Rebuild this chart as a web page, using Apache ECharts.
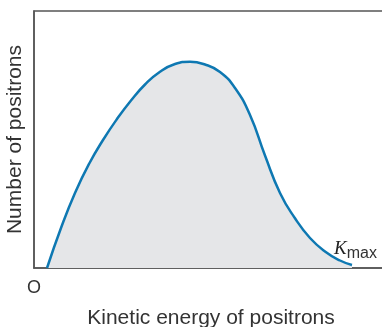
<!DOCTYPE html>
<html><head><meta charset="utf-8">
<script src="https://cdn.jsdelivr.net/npm/echarts@6/dist/echarts.min.js"></script>
<style>html,body{margin:0;padding:0;background:#fff}#c{width:382px;height:327px}</style>
</head><body><div id="c"></div>
<script>
// Kinetic energy (arbitrary units, 0..100) and number of positrons (arbitrary units, 0..100)
const energy = [3.74, 7.76, 11.78, 15.80, 19.83, 23.85, 27.87, 31.90, 36.21, 40.52, 44.83, 49.14, 53.45, 57.76, 62.07, 66.38, 70.69, 75.00, 79.31, 83.62, 87.93, 91.38];
const counts = [0, 15.56, 29.18, 40.47, 49.81, 57.98, 65.18, 71.40, 76.38, 79.38, 80.27, 79.18, 76.26, 70.04, 59.53, 43.77, 29.18, 19.34, 11.67, 6.42, 2.92, 1.17];
const xTickLabels = ['O'];
const xTitle = 'Kinetic energy of positrons';
const yTitle = 'Number of positrons';

const chart = echarts.init(document.getElementById('c'), null, {renderer: 'canvas'});
const font = 'Liberation Sans';
chart.setOption({
  animation: false,
  grid: {left: 34, top: 11, bottom: 59, right: -6, containLabel: false, outerBoundsMode: 'none',
         show: true, borderColor: '#555', borderWidth: 1.5, backgroundColor: 'transparent'},
  xAxis: {
    type: 'value', min: 0, max: 100 * 354 / 348, interval: 200,
    axisLine: {show: true, lineStyle: {color: '#555', width: 1.5}},
    axisTick: {show: false}, splitLine: {show: false},
    axisLabel: {formatter: v => v === 0 ? xTickLabels[0] : '', fontFamily: font, fontSize: 18, color: '#333', margin: 11, showMaxLabel: false},
    name: xTitle, nameLocation: 'middle', nameGap: 40,
    nameTextStyle: {fontFamily: font, fontSize: 21, color: '#333'}
  },
  yAxis: {
    type: 'value', min: 0, max: 100,
    axisLine: {show: true, lineStyle: {color: '#555', width: 1.5}},
    axisTick: {show: false}, splitLine: {show: false}, axisLabel: {show: false},
    name: yTitle, nameLocation: 'middle', nameGap: 8,
    nameTextStyle: {fontFamily: font, fontSize: 21, color: '#333'}
  },
  series: [{
    type: 'line', smooth: 0.5, symbol: 'none',
    data: energy.map((e, i) => [e, counts[i]]),
    lineStyle: {color: '#0e78b2', width: 2.5},
    areaStyle: {color: '#e5e6e8', opacity: 1}
  }]
});
const p = chart.convertToPixel({gridIndex: 0}, [energy[energy.length - 1], counts[counts.length - 1]]);
chart.setOption({
  graphic: [{
    type: 'text', left: p[0] - 18, top: p[1] - 25,
    style: {
      text: '{k|K}{m|max}',
      rich: {
        k: {fontFamily: 'Liberation Serif', fontStyle: 'italic', fontSize: 19, fill: '#222', verticalAlign: 'bottom'},
        m: {fontFamily: font, fontSize: 16, fill: '#333', verticalAlign: 'bottom', padding: [0, 0, -3, 0]}
      }
    }
  }]
});
</script></body></html>
